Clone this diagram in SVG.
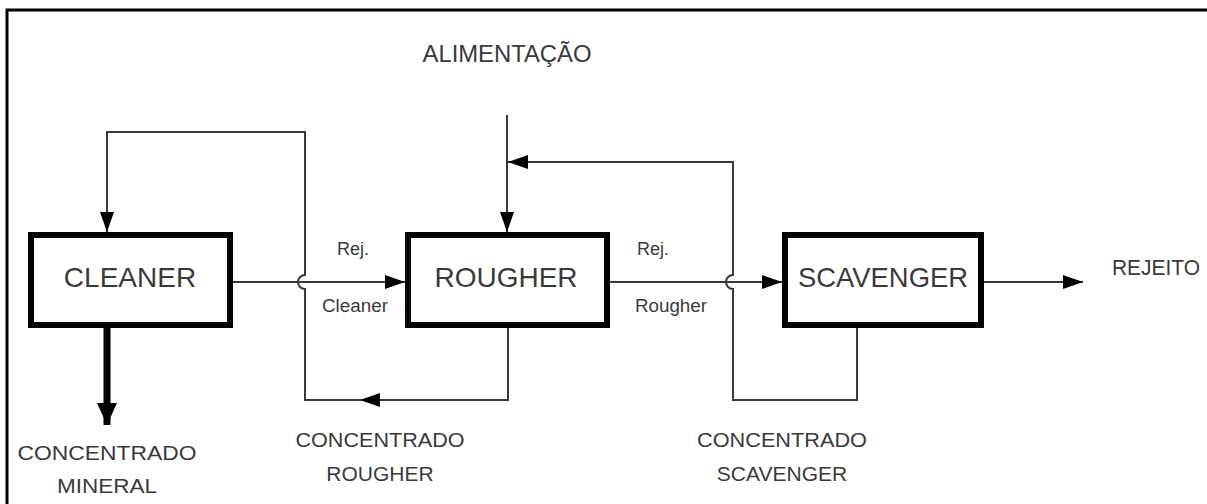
<svg xmlns="http://www.w3.org/2000/svg" width="1207" height="504" viewBox="0 0 1207 504">
  <style>
    .frame { stroke: #000; stroke-width: 3; fill: none; }
    .box { fill: #fff; stroke: #000; stroke-width: 6; }
    .conn { fill: none; stroke: #3a3a3a; stroke-width: 2; }
    .thick { fill: none; stroke: #000; stroke-width: 7; }
    .lbl { font-family: "Liberation Sans", Arial, sans-serif; fill: #3a3a3a; text-anchor: middle; }
    .big { font-size: 28px; }
    .mid { font-size: 21px; }
    .small { font-size: 18px; }
  </style>
  <defs>
    <marker id="arr" markerUnits="userSpaceOnUse" markerWidth="20" markerHeight="14" refX="20" refY="7" orient="auto">
      <path d="M0,0 L20,7 L0,14 z" fill="#000"/>
    </marker>
    <marker id="arrBig" markerUnits="userSpaceOnUse" markerWidth="22" markerHeight="20" refX="22" refY="10" orient="auto">
      <path d="M0,0 L22,10 L0,20 z" fill="#000"/>
    </marker>
  </defs>
  <rect width="1207" height="504" fill="#fff"/>
  <path class="frame" d="M7,504 V10 H1207"/>

  <g id="connectors">
    <!-- feed -->
    <path class="conn" d="M507,115 V232" marker-end="url(#arr)"/>
    <!-- cleaner reject to rougher -->
    <path class="conn" d="M230,282 H405" marker-end="url(#arr)"/>
    <!-- rougher reject to scavenger -->
    <path class="conn" d="M607,282 H782" marker-end="url(#arr)"/>
    <!-- scavenger reject -->
    <path class="conn" d="M981,282 H1083" marker-end="url(#arr)"/>
    <!-- rougher concentrate back to cleaner -->
    <path class="conn" d="M508,328 V400 H360" marker-end="url(#arr)"/>
    <path class="conn" d="M362,400 H305 V289 A7,7 0 0 1 305,275 V132 H107 V232" marker-end="url(#arr)"/>
    <!-- scavenger concentrate back to rougher feed -->
    <path class="conn" d="M857,328 V400 H733 V289 A7,7 0 0 1 733,275 V162 H508" marker-end="url(#arr)"/>
    <!-- cleaner concentrate -->
    <path class="thick" d="M107,328 V425" marker-end="url(#arrBig)"/>
  </g>

  <g id="cleaner">
    <rect class="box" x="31" y="235" width="199" height="90"/>
    <text class="lbl big" x="130" y="287">CLEANER</text>
  </g>
  <g id="rougher">
    <rect class="box" x="408" y="235" width="199" height="90"/>
    <text class="lbl big" x="506" y="287">ROUGHER</text>
  </g>
  <g id="scavenger">
    <rect class="box" x="785" y="235" width="196" height="90"/>
    <text class="lbl big" x="883" y="287" textLength="170" lengthAdjust="spacingAndGlyphs">SCAVENGER</text>
  </g>

  <g id="labels">
    <text class="lbl" x="507" y="62" font-size="23" textLength="169" lengthAdjust="spacingAndGlyphs">ALIMENTAÇÃO</text>
    <text class="lbl" x="1156" y="275" font-size="22" textLength="88" lengthAdjust="spacingAndGlyphs">REJEITO</text>
    <text class="lbl small" x="353" y="255">Rej.</text>
    <text class="lbl small" x="355" y="312" textLength="66" lengthAdjust="spacingAndGlyphs">Cleaner</text>
    <text class="lbl small" x="653" y="255">Rej.</text>
    <text class="lbl small" x="671" y="312" textLength="72" lengthAdjust="spacingAndGlyphs">Rougher</text>
    <text class="lbl mid" x="107" y="460" textLength="179" lengthAdjust="spacingAndGlyphs">CONCENTRADO</text>
    <text class="lbl mid" x="107" y="493" textLength="100" lengthAdjust="spacingAndGlyphs">MINERAL</text>
    <text class="lbl mid" x="380" y="447" textLength="169" lengthAdjust="spacingAndGlyphs">CONCENTRADO</text>
    <text class="lbl mid" x="380" y="481">ROUGHER</text>
    <text class="lbl mid" x="782" y="447" textLength="170" lengthAdjust="spacingAndGlyphs">CONCENTRADO</text>
    <text class="lbl mid" x="782" y="481">SCAVENGER</text>
  </g>
</svg>
